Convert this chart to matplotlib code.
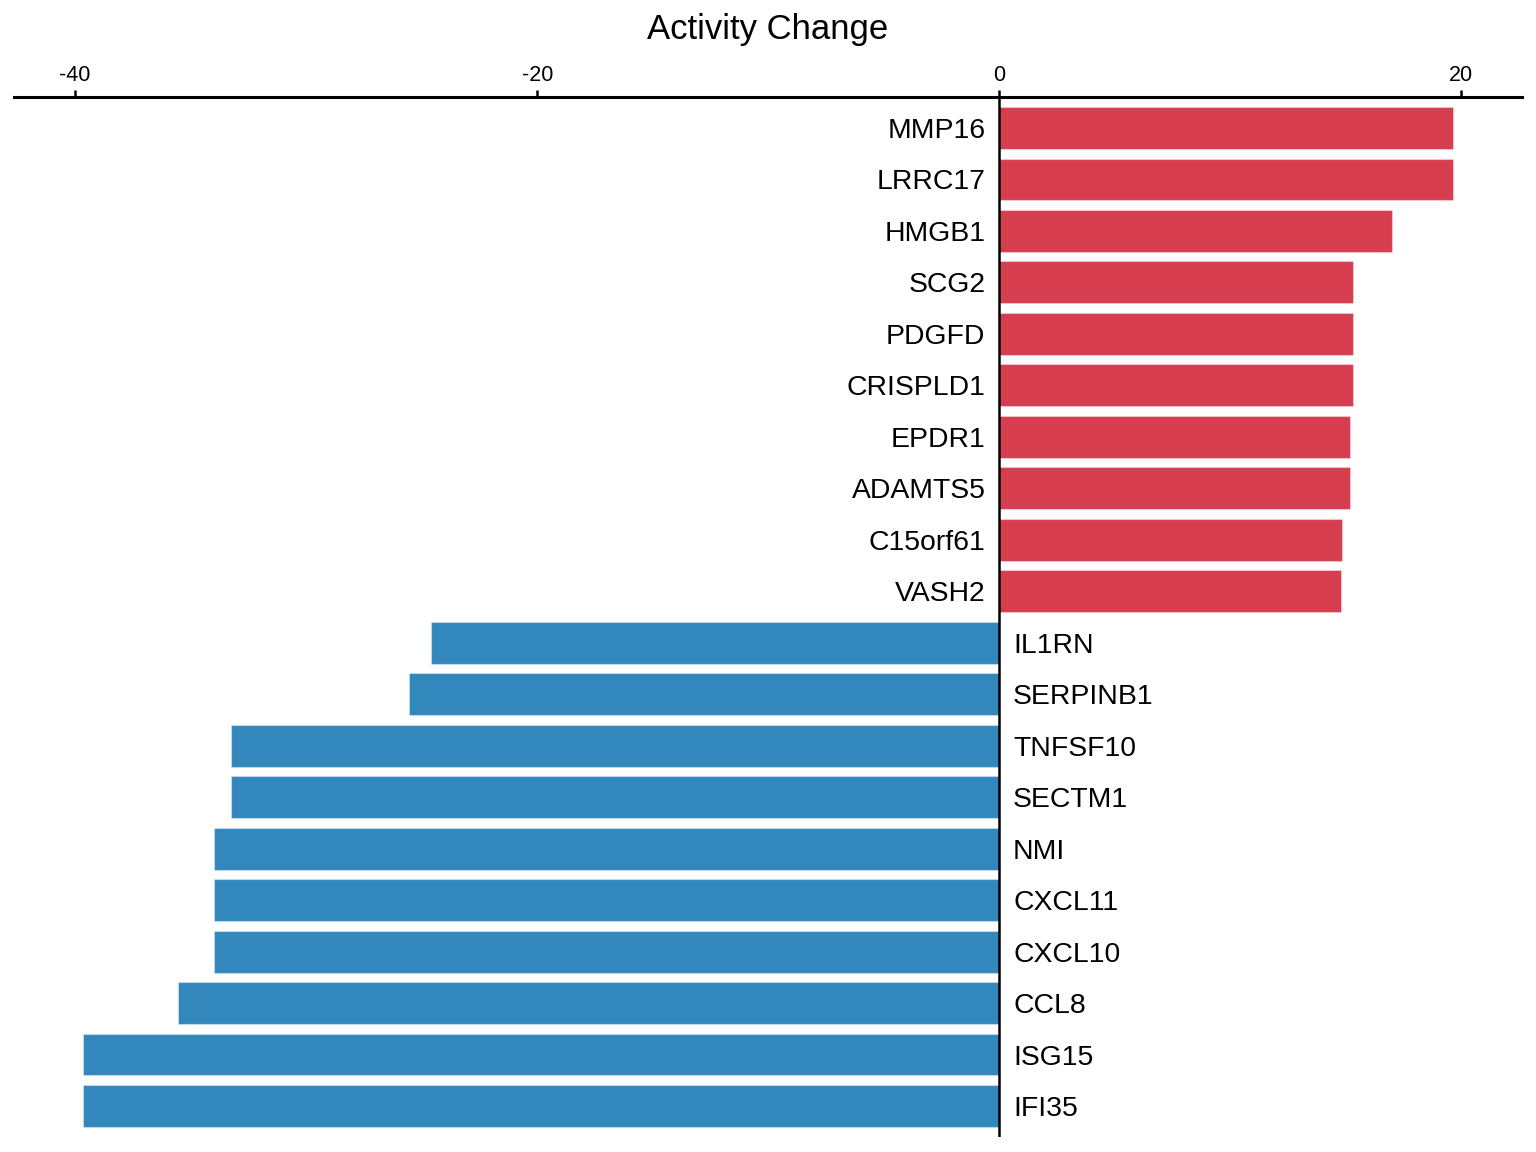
import matplotlib
matplotlib.use("Agg")
import matplotlib.pyplot as plt

plt.rcParams['font.family'] = ['Liberation Sans', 'DejaVu Sans']

genes = ["MMP16", "LRRC17", "HMGB1", "SCG2", "PDGFD", "CRISPLD1", "EPDR1",
         "ADAMTS5", "C15orf61", "VASH2", "IL1RN", "SERPINB1", "TNFSF10",
         "SECTM1", "NMI", "CXCL11", "CXCL10", "CCL8", "ISG15", "IFI35"]
values = [19.66, 19.66, 17.01, 15.33, 15.33, 15.33, 15.20, 15.20, 14.82, 14.78,
          -24.6, -25.55, -33.25, -33.25, -34.0, -34.0, -34.0, -35.56, -39.68, -39.68]
ticks = [-40, -20, 0, 20]

red = "#D63E50"
blue = "#3288BD"

fig = plt.figure(figsize=(15.36, 11.52), dpi=100)
ax = fig.add_axes([14/1536, 1 - 1137/1152, (1522 - 14)/1536, (1137 - 97)/1152])

n = len(genes)
ypos = list(range(n))
colors = [red if v > 0 else blue for v in values]
ax.barh(ypos, values, height=0.81, color=colors, edgecolor=(1, 1, 1, 0.35), linewidth=0.8)

off = 0.6
for y, g, v in zip(ypos, genes, values):
    if v > 0:
        ax.text(-off, y, g, ha='right', va='center_baseline', fontsize=20.4, color='black')
    else:
        ax.text(off, y, g, ha='left', va='center_baseline', fontsize=20.4, color='black')

lo, hi = min(values), max(values)
pad = (hi - lo) * 0.05
ax.set_xlim(lo - pad, hi + pad)
ax.set_ylim(n - 1 + 0.6, -0.6)

ax.axvline(0, color='black', linewidth=1.8)
ax.xaxis.tick_top()
ax.set_xticks(ticks)
ax.set_xticklabels([str(t) for t in ticks], fontsize=15.5)
ax.tick_params(axis='x', direction='out', length=5, width=1.8, pad=3)
ax.set_yticks([])
for s in ['left', 'right', 'bottom']:
    ax.spines[s].set_visible(False)
ax.spines['top'].set_linewidth(2.2)

fig.text(0.5, 1 - 29/1152, "Activity Change", ha='center', va='center', fontsize=25)

fig.savefig("out.png", dpi=100)
